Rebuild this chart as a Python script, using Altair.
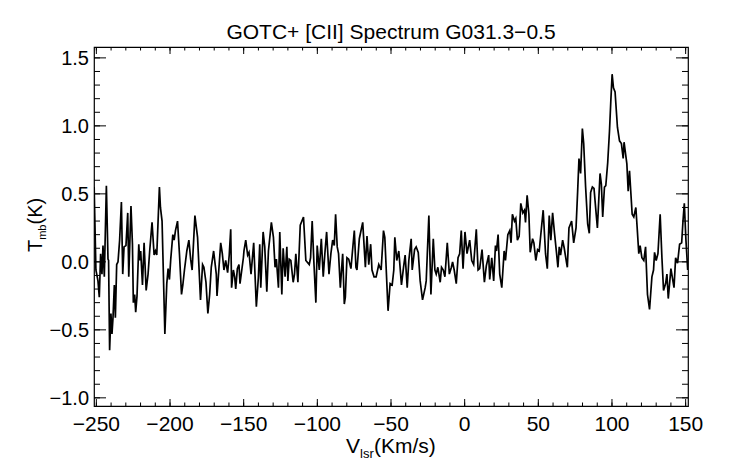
import altair as alt
import pandas as pd

# ---- spectrum values (velocity km/s, Tmb K) ----
seg1 = [(-251.5,0.55),(-250.3,-0.06),(-248.9,-0.14),(-248.0,-0.26),(-247.1,0.06),(-246.2,-0.09),(-245.5,0.12),(-244.6,-0.11),
        (-243.2,0.56),(-242.1,0.02),(-241.7,0.01),(-241.0,-0.65),(-240.1,-0.38),(-239.4,-0.53),(-238.7,-0.41),(-237.8,-0.17),
        (-237.1,-0.41),(-236.2,-0.02),(-235.3,0.00),(-234.2,0.16),(-233.0,0.44),(-232.1,-0.09),(-231.2,0.11),(-229.9,0.12),
        (-228.7,0.36),(-228.0,-0.11),(-226.5,0.41),(-225.5,0.13),(-224.9,-0.30),(-224.0,-0.24),(-223.3,-0.37),(-222.4,-0.25),
        (-221.2,0.13),(-220.6,0.01),(-219.9,0.08),(-218.7,-0.17),(-217.6,0.14),(-216.2,-0.21),(-214.9,-0.09),(-213.8,0.08),
        (-212.2,0.29),(-210.8,0.05),(-209.9,0.08),(-209.0,0.05),(-207.2,0.55),(-206.5,0.40),(-205.4,0.30),(-203.5,-0.53),
        (-202.2,-0.16),(-201.3,-0.05),(-200.4,-0.13),(-199.5,0.02),(-198.1,0.20),(-197.2,0.16),(-196.3,0.23),(-194.9,0.30),
        (-193.6,0.06),(-192.2,-0.24),(-191.3,-0.17),(-190.2,-0.06),(-188.6,0.08),(-187.2,0.16),(-186.0,0.02),(-185.0,-0.06),
        (-183.1,0.34),(-181.3,0.18),(-179.3,-0.28),(-177.9,-0.02),(-177.0,-0.04),(-175.6,-0.15),(-174.3,-0.38),(-173.1,-0.24),
        (-172.0,-0.04),(-170.4,0.08),(-168.6,-0.09),(-168.1,-0.25),(-167.2,-0.11),(-165.6,0.14),(-164.5,0.06),(-163.4,-0.06),
        (-162.2,0.01),(-160.9,-0.08),(-159.8,0.05),(-158.8,0.24),(-158.2,-0.19),(-157.0,-0.06),(-156.1,-0.11),(-155.4,-0.20),
        (-154.3,-0.05),(-153.2,-0.02),(-152.5,-0.16),(-150.2,0.03)]

seg2 = [(-149.8,0.08),(-148.6,0.16),(-147.3,0.05),(-146.4,0.07),(-145.0,-0.09),(-143.2,0.14),(-141.4,-0.33),(-140.0,-0.11),
        (-139.1,0.13),(-138.4,-0.19),(-136.8,0.22),(-135.7,0.11),(-134.3,-0.22),(-133.2,0.08),(-131.2,0.29),(-129.8,0.18),
        (-128.7,-0.04),(-127.8,0.02),(-126.4,-0.19),(-125.5,0.22),(-124.1,-0.24),(-123.2,0.10),(-121.9,-0.11),(-120.7,0.11),
        (-120.0,-0.14),(-119.1,0.02),(-118.0,0.01),(-116.4,-0.15),(-115.5,-0.09),(-114.6,0.06),(-113.2,-0.15),(-111.6,0.27),
        (-109.4,0.33),(-107.8,0.01),(-105.5,-0.02),(-104.6,0.03),(-103.5,0.30),(-102.4,0.01),(-101.0,-0.30),(-100.1,0.12),
        (-98.7,-0.06),(-97.3,0.17),(-96.0,-0.11),(-94.9,0.06),(-93.7,0.22),(-92.1,-0.09),(-90.8,0.06),(-89.6,0.16),
        (-88.5,0.12),(-87.6,0.35),(-86.5,0.11),(-85.6,0.06),(-84.4,-0.19),(-83.7,-0.08),(-82.8,0.06),(-81.7,-0.31),
        (-81.0,-0.26),(-79.9,0.03),(-78.7,0.02),(-77.2,-0.05),(-74.9,0.23),(-73.8,-0.04),(-73.1,-0.06),(-71.5,0.17),
        (-69.2,0.29),(-67.4,-0.04),(-66.3,0.19),(-65.1,-0.02),(-63.8,0.13),(-62.9,-0.06),(-61.5,-0.11),(-60.1,-0.11),
        (-58.3,-0.02),(-56.7,-0.06),(-55.1,0.23),(-54.2,0.18),(-52.0,-0.36),(-50.6,-0.16),(-49.2,-0.17),(-48.1,-0.06)]

seg3 = [(-47.4,0.18),(-46.1,0.01),(-44.7,0.08),(-42.9,-0.17),(-41.5,-0.04),(-40.4,0.05),(-39.0,-0.19),(-37.9,0.01),
        (-36.3,0.17),(-35.6,-0.06),(-34.0,0.09),(-32.9,0.11),(-31.5,0.07),(-30.2,-0.14),(-28.6,-0.28),(-26.8,-0.19),
        (-26.1,-0.14),(-24.3,0.34),(-22.9,-0.24),(-21.3,0.17),(-20.2,-0.06),(-19.3,-0.09),(-18.2,-0.04),(-16.6,-0.15),
        (-15.7,-0.04),(-14.5,-0.06),(-13.4,-0.11),(-11.8,0.14),(-10.4,-0.09),(-9.0,-0.04),(-8.2,0.00),(-7.1,-0.06),
        (-5.7,-0.16),(-4.5,0.03),(-3.4,0.06),(-2.3,0.23),(-1.1,-0.05),(0.2,0.22),(1.6,0.06),(3.4,0.16),
        (4.8,0.01),(6.1,-0.02),(7.9,0.24),(9.1,-0.06),(10.2,-0.05),(11.8,0.09),(13.4,-0.15),(14.7,-0.03),
        (16.3,0.05),(17.0,-0.13),(18.4,0.03),(19.7,-0.14),(20.9,0.12),(21.6,0.08),(22.7,0.20),(23.8,-0.09),
        (25.2,-0.19),(26.8,0.08),(27.7,0.01),(29.3,0.20),(30.6,0.23),(31.5,0.14),(32.4,0.35),(33.8,0.30),
        (34.7,0.32),(35.8,0.16),(37.0,0.19),(38.1,0.43),(39.5,0.36),(40.6,0.38),(41.3,0.29),(42.4,0.49),
        (43.6,0.35),(44.5,0.07),(46.1,0.17),(47.0,0.14),(48.3,0.01),(49.5,0.09),(50.6,0.08),(51.5,0.18),(53.3,0.38)]

seg4 = [(54.9,0.06),(56.1,-0.05),(57.4,0.34),(58.5,0.16),(59.7,0.36),(61.0,0.21),(62.4,0.06),(63.3,-0.04),
        (64.2,0.11),(65.1,0.05),(66.5,0.16),(67.6,0.10),(69.2,-0.01),(69.7,-0.04),(70.8,0.25),(71.9,0.28),
        (72.6,0.30),(74.0,0.14),(75.6,0.25),(76.7,0.52),(77.6,0.76),(78.7,0.65),(79.9,0.98),(80.8,0.87),
        (82.1,0.55),(83.5,0.28),(84.6,0.21),(85.5,0.51),(86.7,0.55),(87.8,0.54),(89.2,0.36),(90.1,0.25),
        (91.9,0.65),(92.8,0.57),(93.7,0.33),(94.9,0.55),(95.8,0.56),(97.1,0.73),(98.3,0.96),(99.2,1.18),
        (100.1,1.38),(101.0,1.28),(102.1,1.25),(103.7,0.99),(105.1,0.89),(106.4,0.87),(107.6,0.76),(108.2,0.88),
        (110.1,0.72),(111.0,0.52),(111.9,0.67),(113.7,0.35),(114.8,0.33),(116.2,0.40),(117.1,0.25),(118.2,0.06),
        (119.1,0.12),(120.3,0.03),(121.6,0.01),(122.8,0.11),(124.1,-0.24),(125.5,-0.35),(127.1,-0.11),(128.2,-0.06),
        (128.9,0.07),(130.0,0.01),(131.2,0.06),(132.7,0.35),(133.9,0.03),(135.0,-0.21),(136.4,-0.16),(137.3,-0.09),
        (138.2,-0.27),(140.0,-0.05),(142.1,-0.19),(143.2,0.03),(144.5,-0.01),(145.9,0.13),(147.3,0.14),(148.2,0.30),
        (149.1,0.43),(150.2,0.16),(151.4,-0.06)]

# ---- axis ticks and their labels ----
x_major = [-250, -200, -150, -100, -50, 0, 50, 100, 150]
x_labels = ["\u2212250", "\u2212200", "\u2212150", "\u2212100", "\u221250", "0", "50", "100", "150"]
x_minor = [-250, -240, -230, -220, -210, -200, -190, -180, -170, -160, -150, -140, -130, -120, -110,
           -100, -90, -80, -70, -60, -50, -40, -30, -20, -10, 0, 10, 20, 30, 40, 50, 60, 70, 80, 90,
           100, 110, 120, 130, 140, 150]
y_major = [-1.0, -0.5, 0.0, 0.5, 1.0, 1.5]
y_labels = ["\u22121.0", "\u22120.5", "0.0", "0.5", "1.0", "1.5"]
y_minor = [-1.0, -0.9, -0.8, -0.7, -0.6, -0.5, -0.4, -0.3, -0.2, -0.1, 0.0, 0.1, 0.2, 0.3, 0.4,
           0.5, 0.6, 0.7, 0.8, 0.9, 1.0, 1.1, 1.2, 1.3, 1.4, 1.5]

X_MIN, X_MAX = -251.6, 151.6
Y_MIN, Y_MAX = -1.06, 1.58

title_text = "GOTC+ [CII] Spectrum G031.3\u22120.5"

W, H = 594, 359
FONT = "Liberation Sans"

pairs = seg1 + seg2 + seg3 + seg4
df = pd.DataFrame({"v": [p[0] for p in pairs], "t": [p[1] for p in pairs]})
df["i"] = range(len(df))

xscale = alt.Scale(domain=[X_MIN, X_MAX], nice=False, zero=False)
yscale = alt.Scale(domain=[Y_MIN, Y_MAX], nice=False, zero=False)

line = alt.Chart(df).mark_line(color="black", strokeWidth=1.7, clip=True).encode(
    x=alt.X("v:Q", scale=xscale, axis=None),
    y=alt.Y("t:Q", scale=yscale, axis=None),
    order="i:Q",
)

def xticks(vals, length, top):
    y0, y1 = (0, length) if top else (H - length, H)
    return alt.Chart(pd.DataFrame({"v": vals})).mark_rule(color="black", strokeWidth=1).encode(
        x=alt.X("v:Q", scale=xscale, axis=None), y=alt.value(y0), y2=alt.value(y1))

def yticks(vals, length, right):
    x0, x1 = (W - length, W) if right else (0, length)
    return alt.Chart(pd.DataFrame({"t": vals})).mark_rule(color="black", strokeWidth=1).encode(
        y=alt.Y("t:Q", scale=yscale, axis=None), x=alt.value(x0), x2=alt.value(x1))

xlab = alt.Chart(pd.DataFrame({"v": x_major, "s": x_labels})).mark_text(
    font=FONT, fontSize=21, align="center", baseline="alphabetic", color="black").encode(
    x=alt.X("v:Q", scale=xscale, axis=None), y=alt.value(H + 25), text="s:N")

ylab = alt.Chart(pd.DataFrame({"t": y_major, "s": y_labels})).mark_text(
    font=FONT, fontSize=20, align="right", baseline="alphabetic", dy=7, color="black").encode(
    y=alt.Y("t:Q", scale=yscale, axis=None), x=alt.value(-5), text="s:N")

def label(text, x, y, size, align="left", angle=0):
    kw = dict(font=FONT, fontSize=size, align=align, baseline="alphabetic", color="black")
    if angle:
        kw["angle"] = angle
    return alt.Chart(pd.DataFrame({"s": [text]})).mark_text(**kw).encode(
        x=alt.value(x), y=alt.value(y), text="s:N")

layers = [
    line,
    xticks(x_minor, 3.5, False), xticks(x_major, 7, False),
    xticks(x_minor, 3.5, True), xticks(x_major, 7, True),
    yticks(y_minor, 6, False), yticks(y_major, 12, False),
    yticks(y_minor, 6, True), yticks(y_major, 12, True),
    xlab, ylab,
    label(title_text, W / 2, -8, 21, align="center"),
    label("V", 252, 406, 21),
    label("lsr", 266, 411, 13),
    label("(Km/s)", 280, 406, 21),
    label("T", -52, 205, 20, angle=270),
    label("mb", -48, 192.8, 11, angle=270),
    label("(K)", -52, 177.5, 20, angle=270),
]

chart = alt.layer(*layers).properties(
    width=W, height=H,
    autosize=alt.AutoSizeParams(type="none"),
    padding={"left": 86, "top": 39, "right": 40, "bottom": 56},
).configure_view(stroke="black", strokeWidth=1.2)

chart.save("out.html", embed_options={"renderer": "svg", "actions": False})
